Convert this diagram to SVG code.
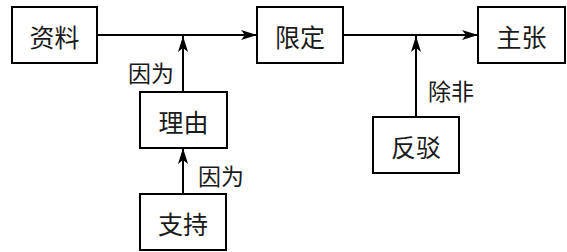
<svg xmlns="http://www.w3.org/2000/svg" width="567" height="252" viewBox="0 0 567 252">
<style>
.box{fill:#fff;stroke:#000;stroke-width:2}
.t{font-family:"Noto Sans CJK SC","Liberation Serif",serif;font-size:25px;text-anchor:middle;dominant-baseline:central;fill:#1a1a1a}
.l{font-family:"Noto Sans CJK SC","Liberation Serif",serif;font-size:23px;dominant-baseline:central;fill:#1a1a1a}
.c{stroke:#000;stroke-width:2;fill:none}
</style>
<defs>
<marker id="ah" markerWidth="16" markerHeight="10" refX="16" refY="5" orient="auto" markerUnits="userSpaceOnUse">
<path d="M0,0 L16,5 L0,10 L4,5 Z" fill="#000"/>
</marker>
</defs>
<rect width="567" height="252" fill="#fff"/>
<g id="connectors">
<line class="c" x1="97" y1="35" x2="257" y2="35" marker-end="url(#ah)"/>
<line class="c" x1="343" y1="35" x2="478" y2="35" marker-end="url(#ah)"/>
<line class="c" x1="183" y1="92" x2="183" y2="36" marker-end="url(#ah)"/>
<line class="c" x1="183" y1="194" x2="183" y2="148" marker-end="url(#ah)"/>
<line class="c" x1="416" y1="117" x2="416" y2="36" marker-end="url(#ah)"/>
<text class="l" x="128" y="72">因为</text>
<text class="l" x="198" y="175">因为</text>
<text class="l" x="428" y="90">除非</text>
</g>
<g id="n-ziliao"><rect class="box" x="12" y="7" width="85" height="56"/><text class="t" x="54.5" y="36">资料</text></g>
<g id="n-xianding"><rect class="box" x="257" y="7" width="86" height="56"/><text class="t" x="300" y="36">限定</text></g>
<g id="n-zhuzhang"><rect class="box" x="478" y="7" width="87" height="56"/><text class="t" x="521.5" y="36">主张</text></g>
<g id="n-liyou"><rect class="box" x="140" y="92" width="87" height="56"/><text class="t" x="183.5" y="121">理由</text></g>
<g id="n-zhichi"><rect class="box" x="140" y="194" width="86" height="56"/><text class="t" x="183" y="223">支持</text></g>
<g id="n-fanbo"><rect class="box" x="373" y="117" width="86" height="56"/><text class="t" x="416" y="146">反驳</text></g>
</svg>
